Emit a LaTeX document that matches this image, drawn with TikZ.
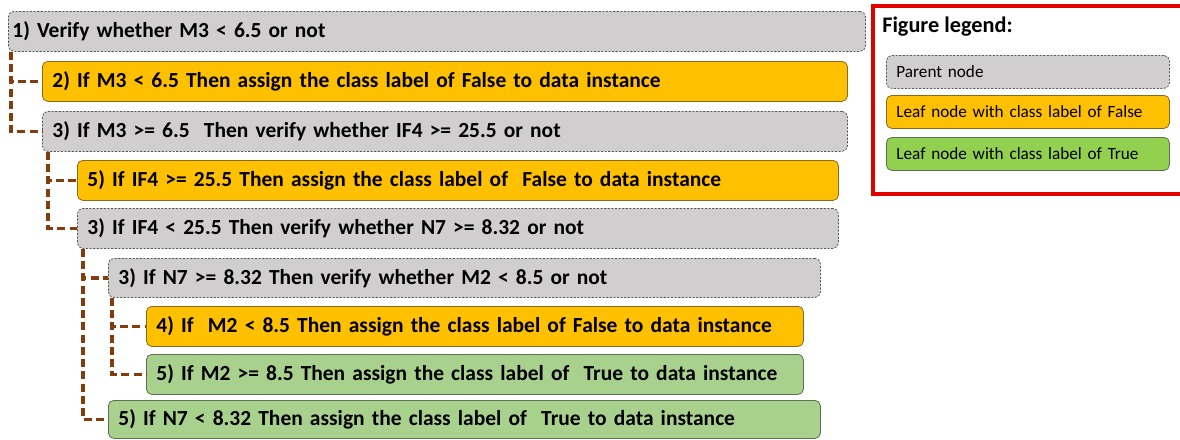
\documentclass[tikz,border=0pt]{standalone}
\usepackage{fontspec}
\setmainfont{Carlito}
\usetikzlibrary{positioning}

\definecolor{parentfill}{HTML}{D0CECE}
\definecolor{parentline}{HTML}{595959}
\definecolor{falsefill}{HTML}{FFC000}
\definecolor{falseline}{HTML}{8A6A1E}
\definecolor{truefill}{HTML}{A9D18E}
\definecolor{trueline}{HTML}{5F6F52}
\definecolor{legtrue}{HTML}{92D050}
\definecolor{linkbrown}{HTML}{843C0C}
\definecolor{legendred}{HTML}{E00000}

\tikzset{
  % generic rule-box: width and height in pixel units
  cell/.style 2 args={rectangle, rounded corners=4pt, anchor=north west,
    minimum width={#1*0.75pt}, minimum height={#2*0.75pt},
    inner xsep=7.5pt, inner ysep=0pt,
    text width={(#1-20)*0.75pt}, align=left,
    font=\bfseries\fontsize{16.1}{19}\selectfont},
  parent/.style={fill=parentfill, draw=parentline, line width=0.6pt,
    dash pattern=on 1.6pt off 1.1pt},
  leaffalse/.style={fill=falsefill, draw=falseline, line width=0.6pt},
  leaftrue/.style={fill=truefill, draw=trueline, line width=0.6pt},
  link/.style={draw=linkbrown, line width=2.8pt,
    dash pattern=on 6pt off 3.2pt},
  legcell/.style={rectangle, rounded corners=4pt, anchor=north west,
    minimum width={283*0.75pt}, minimum height={33*0.75pt},
    inner xsep=7.5pt, inner ysep=0pt,
    text width={(283-20)*0.75pt}, align=left,
    font=\fontsize{12.9}{15}\selectfont}
}

\begin{document}
\hyphenpenalty=10000
\begin{tikzpicture}[x=0.75pt, y=-0.75pt]
\useasboundingbox (0,0) rectangle (1180,439);

% decision rules
\node[cell={857}{40}, parent, inner xsep=3pt, text width={(857-8)*0.75pt}] (r1) at (8,11) {1) Verify whether M3 < 6.5 or not};
\node[cell={805}{40}, leaffalse] (r2) at (42,61) {2) If M3 < 6.5 Then assign the class label of False to data instance};
\node[cell={805}{40}, parent] (r3) at (42,111) {3) If M3 >= 6.5~ Then verify whether IF4 >= 25.5 or not};
\node[cell={761}{40}, leaffalse] (r4) at (77,160) {5) If IF4 >= 25.5 Then assign the class label of~ False to data instance};
\node[cell={761}{40}, parent] (r5) at (77,208) {3) If IF4 < 25.5 Then verify whether N7 >= 8.32 or not};
\node[cell={712}{39}, parent] (r6) at (108,258) {3) If N7 >= 8.32 Then verify whether M2 < 8.5 or not};
\node[cell={657}{40}, leaffalse] (r7) at (146,306) {4) If~ M2 < 8.5 Then assign the class label of False to data instance};
\node[cell={657}{40}, leaftrue] (r8) at (146,354) {5) If M2 >= 8.5 Then assign the class label of~ True to data instance};
\node[cell={712}{38}, leaftrue] (r9) at (108,400) {5) If N7 < 8.32 Then assign the class label of~ True to data instance};

% tree connectors
\draw[link] ([xshift=3*0.75pt]r1.south west) |- (r2.west);
\draw[link] ([xshift=3*0.75pt]r1.south west) |- (r3.west);
\draw[link] ([xshift=6*0.75pt]r3.south west) |- (r4.west);
\draw[link] ([xshift=6*0.75pt]r3.south west) |- (r5.west);
\draw[link] ([xshift=6*0.75pt]r5.south west) |- (r6.west);
\draw[link] ([xshift=6*0.75pt]r5.south west) |- (r9.west);
\draw[link] ([xshift=4*0.75pt]r6.south west) |- (r7.west);
\draw[link] ([xshift=4*0.75pt]r6.south west) |- (r8.west);

% legend
\draw[legendred, line width=2.4pt] (873,6) rectangle (1190,194);
\node[anchor=north west, inner sep=0pt, font=\bfseries\fontsize{16.7}{20}\selectfont] (legtitle) at (882,17) {Figure legend:};
\node[legcell, parent] (legparent) at (886,55) {Parent node};
\node[legcell, leaffalse] (legfalse) at (886,95) {Leaf node with class label of False};
\node[legcell, fill=legtrue, draw=trueline, line width=0.6pt] (legtrue) at (886,137) {Leaf node with class label of True};
\end{tikzpicture}
\end{document}
